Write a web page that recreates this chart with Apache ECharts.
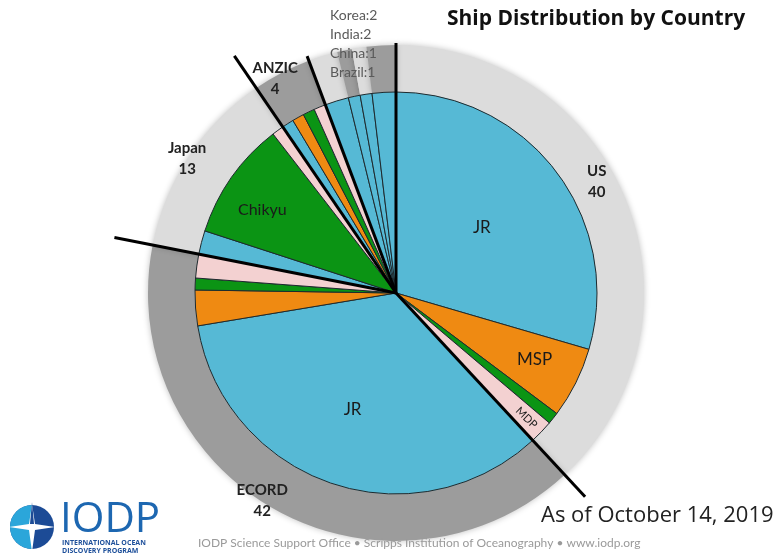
<!DOCTYPE html>
<html><head><meta charset="utf-8">
<script src="https://cdn.jsdelivr.net/npm/echarts@6/dist/echarts.min.js"></script>
<style>html,body{margin:0;padding:0;background:#fff}#chart{width:780px;height:556px}</style>
</head><body><div id="chart"></div>
<script>
// ---- data ----
const countries = ['US', 'ECORD', 'Japan', 'ANZIC', 'Korea', 'China', 'Brazil', 'India'];
const countryTotals = [40, 42, 13, 4, 2, 1, 1, 2];
const platforms = ['JR', 'MSP', 'Chikyu', 'MDP'];
// per-country ship counts in platform order JR, MSP, Chikyu, MDP
const usShips = [31, 6, 1, 2];
const ecordShips = [36, 3, 1, 2];
const japanShips = [2, 0, 10, 1];
const anzicShips = [1, 1, 1, 1];
const koreaShips = [2, 0, 0, 0];
const chinaShips = [1, 0, 0, 0];
const brazilShips = [1, 0, 0, 0];
const indiaShips = [2, 0, 0, 0];
const smallCountryNotes = ['Korea:2', 'India:2', 'China:1', 'Brazil:1'];
const titleText = 'Ship Distribution by Country';
const dateNote = 'As of October 14, 2019';
const footerText = 'IODP Science Support Office \u2022 Scripps Institution of Oceanography \u2022 www.iodp.org';

// ---- styling ----
const shipsByCountry = [usShips, ecordShips, japanShips, anzicShips, koreaShips, chinaShips, brazilShips, indiaShips];
const platformColors = { JR: '#56b9d5', MSP: '#ef8a12', Chikyu: '#0b9414', MDP: '#f3d1d1' };
const ringColors = ['#dcdcdc', '#9c9c9c'];
const font = 'Lato';
const CX = 396, CY = 293, R_PIE = 201, R_RING = 248;

const innerLabelCfg = {
  'US|JR': { fontSize: 17, shift: [3, -3] },
  'US|MSP': { fontSize: 17, shift: [46, 20] },
  'US|MDP': { fontSize: 11, shift: [77, 0], rotate: 'radial' },
  'ECORD|JR': { fontSize: 17, shift: [-10, 19] },
  'Japan|Chikyu': { fontSize: 16, shift: [-49, -24] }
};
const ringLabelShift = { US: [-11, -28], ECORD: [-23, 9], Japan: [-19, -9], ANZIC: [-16, -12] };
const boundaryLen = { US: 278, ECORD: 287, Japan: 287, ANZIC: 253, India: 250 };

const innerData = [], innerKeys = [];
countries.forEach((c, i) => {
  shipsByCountry[i].forEach((v, j) => {
    if (!v) return;
    const key = c + '|' + platforms[j];
    const cfg = innerLabelCfg[key];
    innerKeys.push(key);
    innerData.push({
      name: platforms[j], value: v,
      itemStyle: { color: platformColors[platforms[j]] },
      label: cfg ? { show: true, fontSize: cfg.fontSize, rotate: cfg.rotate || 0 } : { show: false }
    });
  });
});

const ringData = countries.map((c, i) => ({
  name: c, value: countryTotals[i],
  itemStyle: { color: ringColors[i % 2] },
  label: { show: !!ringLabelShift[c] }
}));

const total = countryTotals.reduce((a, b) => a + b, 0);
let cum = 0;
const lineSeries = [];
countries.forEach((c, i) => {
  cum += countryTotals[i];
  if (boundaryLen[c]) {
    lineSeries.push({
      type: 'line', coordinateSystem: 'polar', symbol: 'none', silent: true, z: 10,
      lineStyle: { color: '#000', width: 3 },
      data: [[0, cum], [boundaryLen[c], cum]]
    });
  }
});

const chart = echarts.init(document.getElementById('chart'), null, { renderer: 'canvas' });
chart.setOption({
  backgroundColor: '#fff',
  animation: false,
  title: [
    { text: titleText, left: 447, top: 9, padding: 0,
      textStyle: { fontFamily: 'Open Sans', fontWeight: 'bold', fontSize: 21, color: '#111' } },
    { text: smallCountryNotes.join('\n'), left: 330, top: 6, padding: 0,
      textStyle: { fontFamily: font, fontWeight: 'normal', fontSize: 14, lineHeight: 19, color: '#5a5a5a' } },
    { text: dateNote, left: 541, top: 505, padding: 0,
      textStyle: { fontFamily: 'Open Sans', fontWeight: 'normal', fontSize: 22, color: '#222' } },
    { text: footerText, left: 198, top: 537, padding: 0,
      textStyle: { fontFamily: font, fontWeight: 'normal', fontSize: 12, color: '#9a9a9a' } }
  ],
  polar: { center: [CX, CY], radius: 300 },
  radiusAxis: { type: 'value', min: 0, max: 300, show: false },
  angleAxis: { type: 'value', min: 0, max: total, startAngle: 90, clockwise: true, show: false },
  graphic: [
    { type: 'group', left: 9, top: 502, children: [
      { type: 'circle', shape: { cx: 24, cy: 25, r: 22 }, style: { fill: '#1c4b96' } },
      { type: 'sector', shape: { cx: 24, cy: 25, r: 22, r0: 0, startAngle: Math.PI * 0.5, endAngle: Math.PI * 1.5 }, style: { fill: '#2ba6da' } },
      { type: 'polygon', shape: { points: [[24, 2], [27, 22], [47, 25], [27, 28], [24, 50], [21, 28], [1, 25], [21, 22]] }, style: { fill: '#fff' } },
      { type: 'polygon', shape: { points: [[24, 0], [26, 22], [22, 22]] }, style: { fill: '#1c4b96' } }
    ]},
    { type: 'text', left: 60, top: 499, style: { text: 'IODP', font: '42px "Open Sans"', fill: '#1d67b1' } },
    { type: 'text', left: 62, top: 539, style: { text: 'INTERNATIONAL OCEAN\nDISCOVERY PROGRAM', font: 'bold 7px "Open Sans"', lineHeight: 8, fill: '#1d4f9a' } }
  ],
  series: [
    {
      type: 'pie', name: 'countries', center: [CX, CY], radius: [R_PIE, R_RING],
      startAngle: 90, clockwise: true, avoidLabelOverlap: false, silent: true, z: 1,
      itemStyle: { borderWidth: 0, shadowBlur: 6, shadowColor: 'rgba(0,0,0,0.25)' },
      label: { position: 'inside', formatter: '{b}\n{c}', fontFamily: font, fontWeight: 'bold', fontSize: 15, lineHeight: 21, color: '#222' },
      labelLine: { show: false },
      labelLayout: p => { const s = ringLabelShift[countries[p.dataIndex]]; return s ? { dx: s[0], dy: s[1] } : {}; },
      data: ringData
    },
    {
      type: 'pie', name: 'platforms', center: [CX, CY], radius: [0, R_PIE],
      startAngle: 90, clockwise: true, avoidLabelOverlap: false, silent: true, z: 2,
      itemStyle: { borderColor: '#1e2a2e', borderWidth: 1 },
      label: { position: 'inside', formatter: '{b}', fontFamily: font, color: '#1a1a1a' },
      labelLine: { show: false },
      labelLayout: p => { const c = innerLabelCfg[innerKeys[p.dataIndex]]; return c ? { dx: c.shift[0], dy: c.shift[1] } : {}; },
      data: innerData
    }
  ].concat(lineSeries)
});
</script>
</body></html>
